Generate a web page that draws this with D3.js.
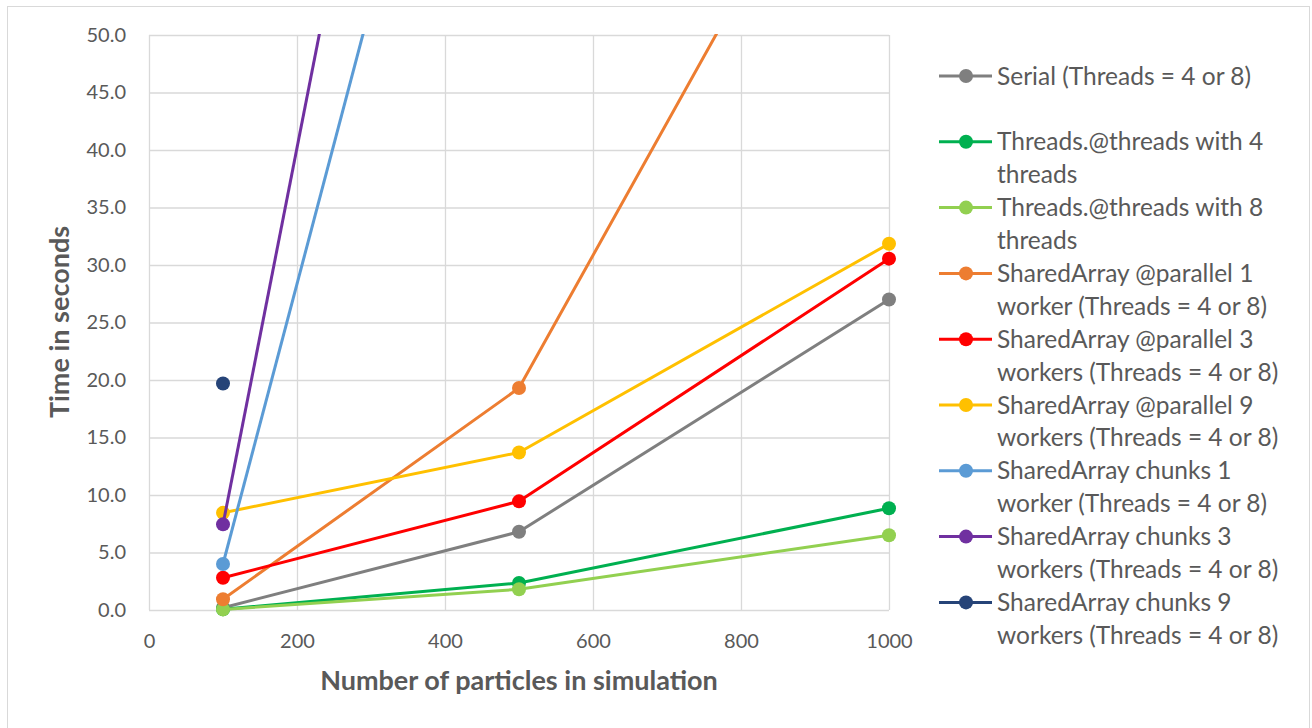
<!DOCTYPE html>
<html>
<head>
<meta charset="utf-8">
<script src="https://cdn.jsdelivr.net/npm/d3@7"></script>
<style>
  body { margin: 0; background: #fff; }
  svg { display: block; font-family: Lato, "Open Sans", sans-serif; }
</style>
</head>
<body>
<svg id="chart" width="1312" height="728"></svg>
<script>
// data
var particles = [100, 500, 1000];
var xTicks = [0, 200, 400, 600, 800, 1000];
var yTicks = [0, 5, 10, 15, 20, 25, 30, 35, 40, 45, 50];

var serial      = [0.2, 6.8, 27.0];
var threads4    = [0.06, 2.35, 8.85];
var threads8    = [0.05, 1.8, 6.5];
var parallel1   = [0.93, 19.3, 77.0];
var parallel3   = [2.8, 9.45, 30.55];
var parallel9   = [8.45, 13.7, 31.85];
var chunks1     = [4.0, 101.4];
var chunks3     = [7.45, 138.4];
var chunks9     = [19.7];

var seriesNames = [
    ["Serial (Threads = 4 or 8)"],
    null,
    ["Threads.@threads with 4", "threads"],
    ["Threads.@threads with 8", "threads"],
    ["SharedArray @parallel 1", "worker (Threads = 4 or 8)"],
    ["SharedArray @parallel 3", "workers (Threads = 4 or 8)"],
    ["SharedArray @parallel 9", "workers (Threads = 4 or 8)"],
    ["SharedArray chunks 1", "worker (Threads = 4 or 8)"],
    ["SharedArray chunks 3", "workers (Threads = 4 or 8)"],
    ["SharedArray chunks 9", "workers (Threads = 4 or 8)"]
];
var seriesValues = [serial, null, threads4, threads8, parallel1, parallel3, parallel9, chunks1, chunks3, chunks9];
var seriesColors = ["#7f7f7f", null, "#00b050", "#92d050", "#ed7d31", "#ff0000", "#ffc000", "#5b9bd5", "#7030a0", "#264478"];

var svg = d3.select("#chart");
var textColor = "#595959";
var gridColor = "#d9d9d9";

// outer chart frame
svg.append("rect")
    .attr("x", 7.5).attr("y", 6.5)
    .attr("width", 1302).attr("height", 730)
    .attr("fill", "#fff")
    .attr("stroke", gridColor);

var plot = {left: 149, top: 35, right: 889, bottom: 610};

var x = d3.scaleLinear().domain([0, 1000]).range([plot.left, plot.right]);
var y = d3.scaleLinear().domain([0, 50]).range([plot.bottom, plot.top]);

// grid
var grid = svg.append("g").attr("class", "grid");
grid.selectAll(".hg").data(yTicks).enter().append("line")
    .attr("x1", plot.left).attr("x2", plot.right)
    .attr("y1", function (d) { return y(d) + 0.5; })
    .attr("y2", function (d) { return y(d) + 0.5; })
    .attr("stroke", gridColor).attr("stroke-width", 1.3);
grid.selectAll(".vg").data(xTicks).enter().append("line")
    .attr("x1", function (d) { return x(d) + 0.5; })
    .attr("x2", function (d) { return x(d) + 0.5; })
    .attr("y1", plot.top).attr("y2", plot.bottom)
    .attr("stroke", gridColor).attr("stroke-width", 1.3);

// axes (labels only, Excel style)
var xAxis = d3.axisBottom(x).tickValues(xTicks).tickSize(0).tickPadding(24)
    .tickFormat(d3.format("d"));
svg.append("g")
    .attr("transform", "translate(0," + plot.bottom + ")")
    .call(xAxis)
    .call(function (g) { g.select(".domain").remove(); })
    .selectAll("text")
    .attr("fill", textColor)
    .style("font-size", "20px")
    .style("font-family", "Lato, sans-serif");

var yAxis = d3.axisLeft(y).tickValues(yTicks).tickSize(0).tickPadding(23)
    .tickFormat(d3.format(".1f"));
svg.append("g")
    .attr("transform", "translate(" + plot.left + ",0)")
    .call(yAxis)
    .call(function (g) { g.select(".domain").remove(); })
    .selectAll("text")
    .attr("fill", textColor)
    .style("font-size", "20px")
    .style("font-family", "Lato, sans-serif");

// axis titles
svg.append("text")
    .attr("x", 519).attr("y", 690)
    .attr("text-anchor", "middle")
    .attr("fill", textColor)
    .style("font-size", "27px")
    .style("font-weight", "bold")
    .text("Number of particles in simulation");

svg.append("text")
    .attr("transform", "translate(69," + 322 + ") rotate(-90)")
    .attr("text-anchor", "middle")
    .attr("fill", textColor)
    .style("font-size", "27px")
    .style("font-weight", "bold")
    .text("Time in seconds");

// series
svg.append("clipPath").attr("id", "plotClip")
    .append("rect")
    .attr("x", plot.left).attr("y", plot.top - 1)
    .attr("width", plot.right - plot.left + 10)
    .attr("height", plot.bottom - plot.top + 12);

var line = d3.line()
    .x(function (d, i) { return x(particles[i]); })
    .y(function (d) { return y(d); });

var seriesG = svg.append("g").attr("clip-path", "url(#plotClip)");
seriesValues.forEach(function (vals, k) {
    if (!vals) return;
    var g = seriesG.append("g");
    if (vals.length > 1) {
        g.append("path")
            .attr("d", line(vals))
            .attr("fill", "none")
            .attr("stroke", seriesColors[k])
            .attr("stroke-width", 3)
            .attr("stroke-linejoin", "round");
    }
    g.selectAll("circle").data(vals).enter().append("circle")
        .attr("cx", function (d, i) { return x(particles[i]); })
        .attr("cy", function (d) { return y(d); })
        .attr("r", 7)
        .attr("fill", seriesColors[k]);
});

// legend
var legend = svg.append("g").attr("class", "legend");
var lineH = 32.9;
var row = 0;
seriesNames.forEach(function (lines, k) {
    if (!lines) { row += 1; return; }
    var cy = 76 + row * lineH;
    var item = legend.append("g");
    item.append("line")
        .attr("x1", 939).attr("x2", 992)
        .attr("y1", cy).attr("y2", cy)
        .attr("stroke", seriesColors[k]).attr("stroke-width", 3);
    item.append("circle")
        .attr("cx", 966).attr("cy", cy).attr("r", 7)
        .attr("fill", seriesColors[k]);
    lines.forEach(function (t, j) {
        item.append("text")
            .attr("x", 997)
            .attr("y", cy + j * lineH)
            .attr("dy", "0.35em")
            .attr("fill", textColor)
            .style("font-size", "24.5px")
            .text(t);
    });
    row += lines.length;
});
</script>
</body>
</html>
